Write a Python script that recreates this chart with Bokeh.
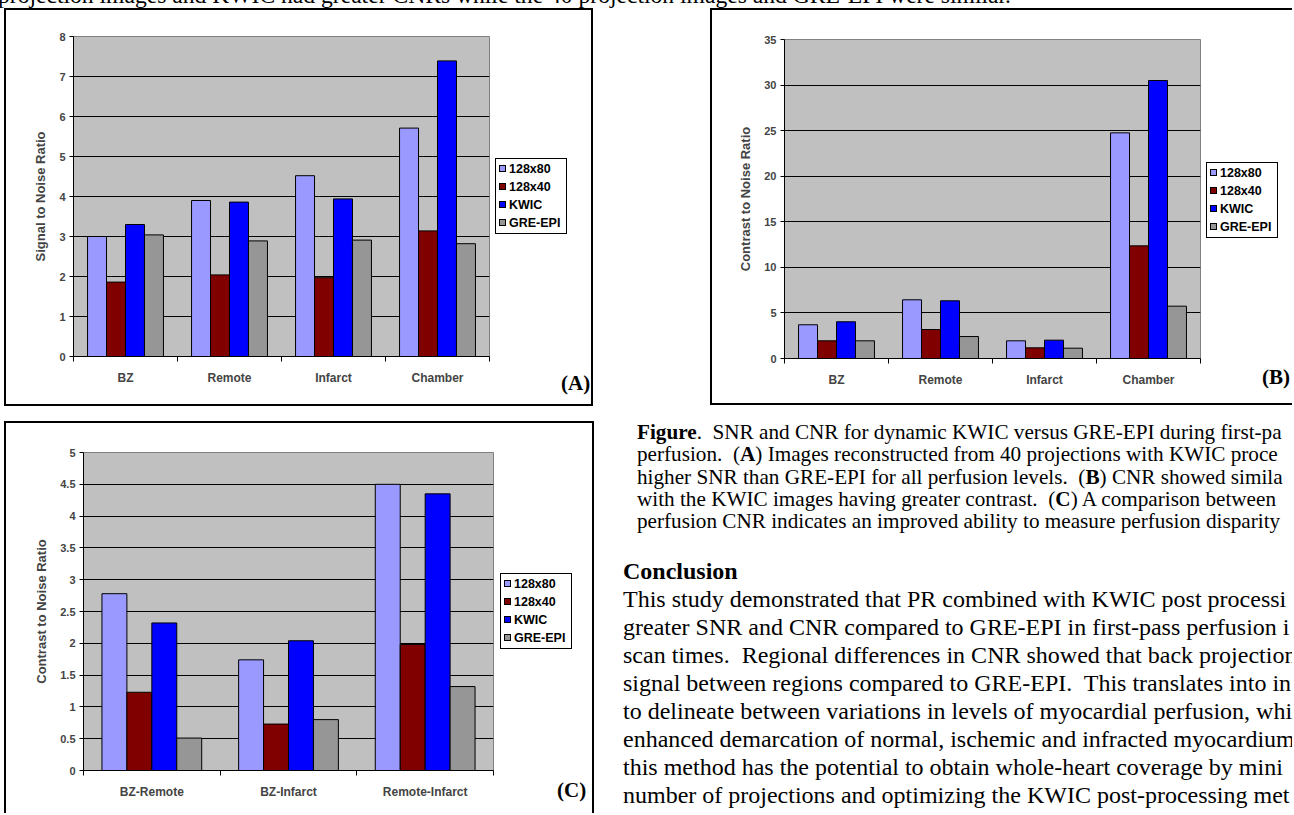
from bokeh.plotting import figure
from bokeh.models import (ColumnDataSource, FixedTicker, Div, Spacer, Range1d,
                          CustomJSTickFormatter)
from bokeh.layouts import row, column
from bokeh.transform import dodge
from bokeh.embed import file_html
from bokeh.resources import INLINE

# ---------------- data ----------------
series = ["128x80", "128x40", "KWIC", "GRE-EPI"]
colors = ["#9999FF", "#800000", "#0000FF", "#969696"]

regions = ["BZ", "Remote", "Infarct", "Chamber"]
snr_128x80 = [3.00, 3.90, 4.52, 5.71]
snr_128x40 = [1.86, 2.04, 1.97, 3.14]
snr_kwic = [3.30, 3.86, 3.94, 7.39]
snr_gre = [3.04, 2.89, 2.91, 2.82]

cnr_128x80 = [3.70, 6.44, 1.94, 24.76]
cnr_128x40 = [1.94, 3.18, 1.17, 12.36]
cnr_kwic = [4.03, 6.33, 2.01, 30.50]
cnr_gre = [1.94, 2.41, 1.13, 5.74]

pairs = ["BZ-Remote", "BZ-Infarct", "Remote-Infarct"]
diff_128x80 = [2.78, 1.74, 4.50]
diff_128x40 = [1.23, 0.73, 1.98]
diff_kwic = [2.32, 2.04, 4.35]
diff_gre = [0.51, 0.80, 1.32]

top_line = ("projection images and KWIC had greater CNRs while the 40 projection "
            "images and GRE-EPI were similar.")
caption_lines = [
    "<b>Figure</b>.&nbsp; SNR and CNR for dynamic KWIC versus GRE-EPI during first-pa",
    "perfusion.&nbsp; (<b>A</b>) Images reconstructed from 40 projections with KWIC proce",
    "higher SNR than GRE-EPI for all perfusion levels.&nbsp; (<b>B</b>) CNR showed simila",
    "with the KWIC images having greater contrast.&nbsp; (<b>C</b>) A comparison between",
    "perfusion CNR indicates an improved ability to measure perfusion disparity",
]
conclusion_title = "Conclusion"
conclusion_lines = [
    "This study demonstrated that PR combined with KWIC post processi",
    "greater SNR and CNR compared to GRE-EPI in first-pass perfusion i",
    "scan times.&nbsp; Regional differences in CNR showed that back projection",
    "signal between regions compared to GRE-EPI.&nbsp; This translates into in",
    "to delineate between variations in levels of myocardial perfusion, whi",
    "enhanced demarcation of normal, ischemic and infracted myocardium",
    "this method has the potential to obtain whole-heart coverage by mini",
    "number of projections and optimizing the KWIC post-processing met",
]

SANS = "Liberation Sans"
SERIF = "Liberation Serif"


def make_chart(cats, vals, ymax, ystep, ytitle, width, height, mb):
    n = len(cats)
    data = {"x": [i + 0.5 for i in range(n)]}
    for name, v in zip(series, vals):
        data[name] = v
    src = ColumnDataSource(data)

    p = figure(width=width, height=height,
               x_range=Range1d(0, n), y_range=Range1d(0, ymax),
               output_backend="svg", toolbar_location=None,
               background_fill_color="#C0C0C0", border_fill_color="white",
               outline_line_color="#808080", outline_line_width=1,
               min_border_left=mb[0], min_border_right=mb[1],
               min_border_top=mb[2], min_border_bottom=mb[3])

    bw = 0.73 / len(series)
    for k, (name, col) in enumerate(zip(series, colors)):
        p.vbar(x=dodge("x", (k - 1.5) * bw, range=p.x_range), top=name,
               width=bw, source=src, fill_color=col,
               line_color="black", line_width=1)

    nt = int(round(ymax / ystep))
    yticks = [round(ystep * i, 3) for i in range(nt + 1)]
    yax = p.yaxis[0]
    yax.ticker = FixedTicker(ticks=yticks)
    yax.formatter = CustomJSTickFormatter(code="return String(Math.round(tick * 100) / 100);")
    yax.axis_label = ytitle
    yax.axis_label_text_font = SANS
    yax.axis_label_text_font_style = "bold"
    yax.axis_label_text_font_size = "13px"
    yax.axis_label_standoff = 8
    yax.major_label_text_font = SANS
    yax.major_label_text_font_style = "bold"
    yax.major_label_text_font_size = "11px"
    yax.major_label_standoff = 4
    yax.major_tick_in = 0
    yax.major_tick_out = 4
    yax.minor_tick_line_color = None
    yax.axis_line_color = "black"
    yax.major_tick_line_color = "black"

    xax = p.xaxis[0]
    xax.ticker = FixedTicker(ticks=[i + 0.5 for i in range(n)],
                             minor_ticks=list(range(n + 1)))
    xax.major_label_overrides = {i + 0.5: c for i, c in enumerate(cats)}
    xax.major_tick_line_color = None
    xax.minor_tick_line_color = "black"
    xax.minor_tick_in = 0
    xax.minor_tick_out = 5
    xax.major_label_standoff = 8
    xax.major_label_text_font = SANS
    xax.major_label_text_font_style = "bold"
    xax.major_label_text_font_size = "12px"
    xax.axis_line_color = "black"

    p.xgrid.visible = False
    p.ygrid.grid_line_color = "black"
    p.ygrid.grid_line_width = 1
    return p


def make_side(width, height, leg_left, leg_top, tag, tag_left, tag_top):
    """Legend (built from series/colors) and panel tag right of the plot area."""
    items = "".join(
        '<div style="height:18px; line-height:18px; white-space:nowrap;">'
        '<span style="display:inline-block; width:7px; height:7px; '
        'border:1px solid black; background:%s; margin-right:3px; '
        'vertical-align:middle; position:relative; top:-1px;"></span>%s</div>'
        % (c, name)
        for name, c in zip(series, colors))
    legend = ('<div style="position:absolute; left:%dpx; top:%dpx; '
              'border:1px solid black; background:white; padding:1px 6px 1px 3px; '
              'font-family:\'Liberation Sans\'; font-weight:bold; font-size:12.5px; '
              'color:black;">%s</div>' % (leg_left, leg_top, items))
    tagdiv = ('<div style="position:absolute; left:%dpx; top:%dpx; '
              'font-family:\'Liberation Serif\'; font-weight:bold; font-size:21px; '
              'line-height:24px; color:black;">%s</div>' % (tag_left, tag_top, tag))
    return Div(text=('<div style="position:relative; width:%dpx; height:%dpx;">%s%s</div>'
                     % (width, height, legend, tagdiv)),
               width=width, height=height, margin=0)


def bar(w, h):
    return Div(text="", width=w, height=h, margin=0,
               styles={"background-color": "black"})


def framed(parts_mid, w, h, left=True, right=True, top=True, bottom=True, b=2):
    mid = []
    if left:
        mid.append(bar(b, h))
    mid.extend(parts_mid)
    if right:
        mid.append(bar(b, h))
    tw = w + (b if left else 0) + (b if right else 0)
    parts = []
    if top:
        parts.append(bar(tw, b))
    parts.append(row(*mid, spacing=0))
    if bottom:
        parts.append(bar(tw, b))
    return column(*parts, spacing=0)


pA = make_chart(regions, [snr_128x80, snr_128x40, snr_kwic, snr_gre], 8, 1,
                "Signal to Noise Ratio", 485, 394, (67, 2, 26, 48))
sA = make_side(100, 394, 4, 148, "(A)", 70, 361)

pB = make_chart(regions, [cnr_128x80, cnr_128x40, cnr_kwic, cnr_gre], 35, 5,
                "Contrast to Noise Ratio", 490, 393, (72, 2, 29, 45))
sB = make_side(90, 393, 4, 152, "(B)", 60, 355)

pC = make_chart(pairs, [diff_128x80, diff_128x40, diff_kwic, diff_gre], 5, 0.5,
                "Contrast to Noise Ratio", 489, 390, (77, 2, 29, 43))
sC = make_side(97, 390, 5, 150, "(C)", 62, 355)

fA = framed([pA, sA], 585, 394)
fB = framed([pB, sB], 580, 393, right=False)
fC = framed([pC, sC], 586, 390, bottom=False)

top_div = Div(
    text=('<div style="position:relative; top:-17px; left:-2px; '
          'font-family:\'Liberation Serif\'; font-size:23.6px; line-height:24px; '
          'white-space:nowrap; color:black;">' + top_line + '</div>'),
    width=1290, height=8, margin=0, styles={"overflow": "hidden"})

html = (
    '<div style="font-family:\'Liberation Serif\'; color:black; white-space:nowrap; '
    'overflow:hidden; width:698px; height:390px;">'
    '<div style="padding-left:43px; font-size:21.2px; line-height:22.25px;">'
    + "<br>".join(caption_lines) +
    '</div>'
    '<div style="padding-left:29px; padding-top:25px; font-size:24px; line-height:28px;">'
    '<b>' + conclusion_title + '</b><br>' + "<br>".join(conclusion_lines) +
    '</div></div>'
)
text_div = Div(text=html, width=698, height=390, margin=0, styles={"overflow": "hidden"})

layout = column(
    top_div,
    row(Spacer(width=4, height=10), fA, Spacer(width=117, height=10), fB, spacing=0),
    Spacer(width=10, height=15),
    row(Spacer(width=4, height=10), fC, text_div, spacing=0),
    spacing=0,
)

open("out.html", "w").write(file_html(layout, INLINE))
